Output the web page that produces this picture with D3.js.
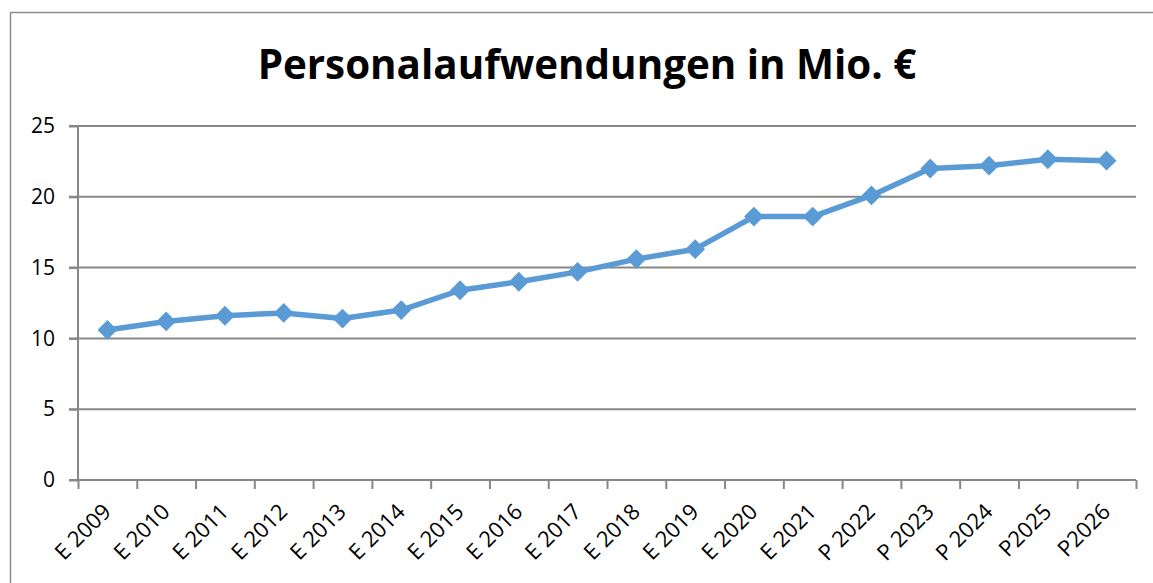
<!DOCTYPE html>
<html lang="de">
  <head>
    <meta charset="utf-8">
    <title>Personalaufwendungen</title>
    <style type="text/css">
body {
  margin: 0;
  background: #fff;
}

svg {
  font-family: "Open Sans", "Liberation Sans", sans-serif;
}

.grid line {
  stroke: #878787;
  stroke-width: 2px;
}

.axis path, .axis line {
  stroke: #878787;
  stroke-width: 2px;
}

.axis text {
  fill: #000;
  font-family: "Open Sans", "Liberation Sans", sans-serif;
  font-size: 21px;
}

.xlabels text {
  font-size: 22px;
}
    </style>
  </head>

  <body>
    <div id="mainCanvas"></div>

    <script src="https://cdnjs.cloudflare.com/ajax/libs/d3/7.8.5/d3.min.js"></script>
    <script>
      // values
      var categories = ["E 2009", "E 2010", "E 2011", "E 2012", "E 2013", "E 2014", "E 2015", "E 2016", "E 2017",
                        "E 2018", "E 2019", "E 2020", "E 2021", "P 2022", "P 2023", "P 2024", "P2025", "P2026"];
      var values = [10.6, 11.2, 11.6, 11.8, 11.4, 12.0, 13.4, 14.0, 14.7,
                    15.6, 16.3, 18.6, 18.6, 20.1, 22.0, 22.2, 22.65, 22.55];
      var yTicks = [0, 5, 10, 15, 20, 25];
      var title = "Personalaufwendungen in Mio. €";

      var W = 1153, H = 583;
      var margin = {top: 126, right: 17, bottom: 103, left: 78};
      var width = W - margin.left - margin.right;
      var height = H - margin.top - margin.bottom;

      var svg = d3.select("#mainCanvas").append("svg")
          .attr("width", W)
          .attr("height", H);

      // chart area frame (runs past the right and bottom edge)
      svg.append("rect")
          .attr("x", 10.5)
          .attr("y", 12.5)
          .attr("width", W + 20)
          .attr("height", H + 20)
          .attr("fill", "none")
          .attr("stroke", "#8c8c8c")
          .attr("stroke-width", 1.5);

      var t = svg.append("text")
          .attr("x", 587)
          .attr("y", 79)
          .attr("text-anchor", "middle")
          .attr("font-weight", "bold")
          .attr("font-size", 40)
          .text(title);
      var tw = t.node().getComputedTextLength();
      t.attr("font-size", 40 * 659 / tw);

      var g = svg.append("g")
          .attr("transform", "translate(" + margin.left + "," + margin.top + ")");

      var x = d3.scaleBand()
          .domain(categories)
          .range([0, width]);

      var y = d3.scaleLinear()
          .domain([0, 25])
          .range([height, 0]);

      g.append("g")
          .attr("class", "grid")
        .selectAll("line")
        .data(yTicks.filter(function(d) { return d > 0; }))
        .enter().append("line")
          .attr("x1", -9)
          .attr("x2", width)
          .attr("y1", function(d) { return y(d); })
          .attr("y2", function(d) { return y(d); });

      var yAxis = d3.axisLeft(y).tickValues(yTicks).tickSize(9).tickPadding(14);
      g.append("g")
          .attr("class", "y axis")
          .call(yAxis)
          .call(function(s) { s.select(".domain").attr("d", "M0," + y(25) + "V" + height); });

      // category boundaries as ticks
      var bounds = d3.range(categories.length + 1);
      var xb = d3.scaleLinear().domain([0, categories.length]).range([0, width]);
      var xAxis = d3.axisBottom(xb).tickValues(bounds).tickSize(9).tickFormat("");
      g.append("g")
          .attr("class", "x axis")
          .attr("transform", "translate(0," + height + ")")
          .call(xAxis)
          .call(function(s) { s.select(".domain").attr("d", "M-9,0H" + width); });

      g.append("g")
          .attr("class", "axis xlabels")
        .selectAll("text")
        .data(categories)
        .enter().append("text")
          .attr("text-anchor", "end")
          .attr("transform", function(d) {
            return "translate(" + (x(d) + x.bandwidth() / 2 + 5) + "," + (height + 33) + ")rotate(-45)";
          })
          .text(function(d) { return d; });

      var line = d3.line()
          .x(function(d, i) { return x(categories[i]) + x.bandwidth() / 2; })
          .y(function(d) { return y(d); });

      g.append("path")
          .datum(values)
          .attr("fill", "none")
          .attr("stroke", "#5b9bd5")
          .attr("stroke-width", 5.5)
          .attr("stroke-linejoin", "round")
          .attr("d", line);

      var diamond = d3.symbol().type(d3.symbolDiamond2).size(250);
      g.append("g").selectAll("path")
        .data(values)
        .enter().append("path")
          .attr("d", diamond)
          .attr("fill", "#5b9bd5")
          .attr("transform", function(d, i) {
            return "translate(" + (x(categories[i]) + x.bandwidth() / 2) + "," + y(d) + ")";
          });
    </script>
  </body>
</html>
